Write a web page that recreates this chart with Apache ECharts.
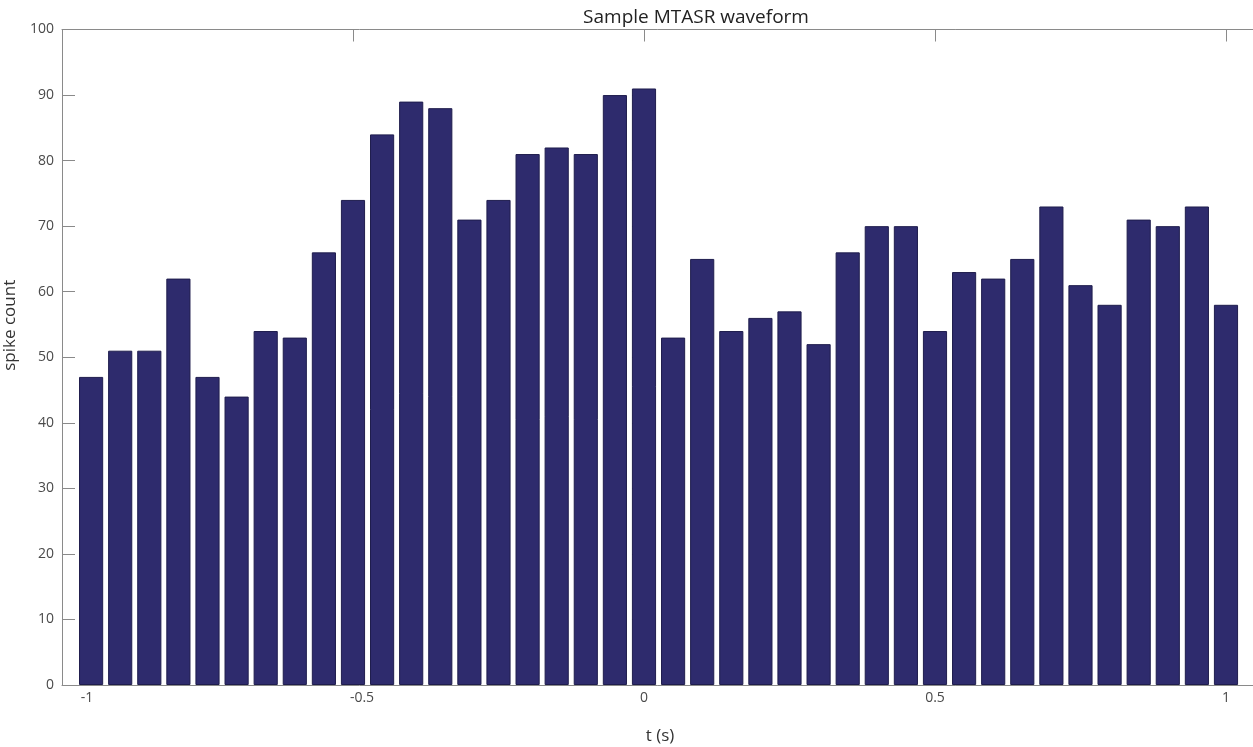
<!DOCTYPE html>
<html>
<head>
<meta charset="utf-8">
<script src="https://cdn.jsdelivr.net/npm/echarts@6/dist/echarts.min.js"></script>
<style>
html,body{margin:0;padding:0;background:#fff;}
#chart{width:1253px;height:747px;}
</style>
</head>
<body>
<div id="chart"></div>
<script>
// bin centres (s)
var binCenters = [-0.95,-0.9,-0.85,-0.8,-0.75,-0.7,-0.65,-0.6,-0.55,-0.5,
  -0.45,-0.4,-0.35,-0.3,-0.25,-0.2,-0.15,-0.1,-0.05,0,
  0.05,0.1,0.15,0.2,0.25,0.3,0.35,0.4,0.45,0.5,
  0.55,0.6,0.65,0.7,0.75,0.8,0.85,0.9,0.95,1.0];
// spike counts
var spikeCounts = [47,51,51,62,47,44,54,53,66,74,
  84,89,88,71,74,81,82,81,90,91,
  53,65,54,56,57,52,66,70,70,54,
  63,62,65,73,61,58,71,70,73,58];
var xTicks = [-1,-0.5,0,0.5,1];
var yTicks = [0,10,20,30,40,50,60,70,80,90,100];

var font = '"Open Sans", "Noto Sans", sans-serif';
var axisGray = '#8a8a8a';
var labelColor = '#4a4a4a';

var barData = binCenters.map(function(t,i){ return [t, spikeCounts[i]]; });

var chart = echarts.init(document.getElementById('chart'), null, {renderer:'canvas'});
chart.setOption({
  animation:false,
  backgroundColor:'#ffffff',
  title:{
    text:'Sample MTASR waveform',
    left:691, top:3, textAlign:'center',
    textStyle:{fontFamily:font,fontSize:19,fontWeight:'normal',color:'#222'}
  },
  grid:{left:62, top:29.5, width:1196, height:655.5, containLabel:false, outerBoundsMode:'none'},
  xAxis:[{
    type:'value', position:'bottom', min:-1, max:1.055, interval:0.5,
    name:'t (s)', nameLocation:'middle', nameGap:43,
    nameTextStyle:{fontFamily:font,fontSize:17,color:'#333'},
    axisLine:{show:true,onZero:false,lineStyle:{color:axisGray,width:1}},
    axisTick:{show:true,inside:true,length:12,lineStyle:{color:axisGray}},
    splitLine:{show:false},
    axisLabel:{
      margin:6, fontFamily:font, fontSize:14, color:labelColor,
      formatter:function(v){
        if (xTicks.indexOf(v) < 0) return '';
        if (v === -1) return '{m|-1}';
        if (v === -0.5) return '{h|-0.5}';
        return String(v);
      },
      rich:{
        m:{fontFamily:font,fontSize:14,color:labelColor,padding:[0,0,0,50]},
        h:{fontFamily:font,fontSize:14,color:labelColor,padding:[0,0,0,18]}
      }
    }
  },{
    type:'value', position:'top', min:-1, max:1.055, interval:0.5,
    axisLine:{show:true,onZero:false,lineStyle:{color:axisGray,width:1}},
    axisTick:{show:true,inside:true,length:12,lineStyle:{color:axisGray}},
    axisLabel:{show:false}, splitLine:{show:false}
  }],
  yAxis:[{
    type:'value', position:'left', min:0, max:100, interval:10,
    name:'spike count', nameLocation:'middle', nameGap:36, nameRotate:90,
    nameTextStyle:{fontFamily:font,fontSize:17,color:'#333',padding:[0,0,0,64]},
    axisLine:{show:true,onZero:false,lineStyle:{color:axisGray,width:1}},
    axisTick:{show:true,inside:true,length:13,lineStyle:{color:axisGray}},
    splitLine:{show:false},
    axisLabel:{margin:8,fontFamily:font,fontSize:14,color:labelColor}
  },{
    type:'value', position:'right', min:0, max:100, interval:10,
    axisLine:{show:false},
    axisTick:{show:true,inside:true,length:12,lineStyle:{color:axisGray}},
    axisLabel:{show:false}, splitLine:{show:false}
  }],
  series:[{
    type:'bar', xAxisIndex:0, yAxisIndex:0,
    data:barData, barWidth:'83%',
    itemStyle:{color:'#2e2b6d',borderColor:'#1f1d4d',borderWidth:1}
  }]
});
</script>
</body>
</html>
